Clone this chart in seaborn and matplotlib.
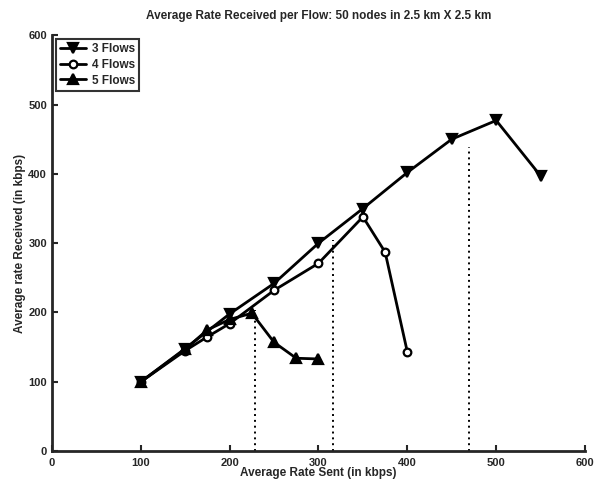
import pandas as pd
import seaborn as sns
import matplotlib.pyplot as plt

# data
sent_3 = [100, 150, 200, 250, 300, 350, 400, 450, 500, 550]
recv_3 = [100, 148, 198, 242, 300, 350, 402, 450, 477, 397]

sent_4 = [100, 150, 175, 200, 250, 300, 350, 375, 400]
recv_4 = [100, 145, 165, 184, 232, 271, 338, 287, 143]

sent_5 = [100, 150, 175, 200, 225, 250, 275, 300]
recv_5 = [100, 147, 175, 190, 199, 157, 134, 133]

# dotted reference lines (x position, top y)
vline_x = [229, 316, 469]
vline_top = [204, 305, 438]

sns.set_style("ticks")
plt.rcParams['font.family'] = ['Liberation Sans', 'DejaVu Sans']
plt.rcParams['font.weight'] = 'bold'

fig = plt.figure(figsize=(5.97, 4.82), dpi=100)
ax = fig.add_axes([0.087, 0.064, 0.893, 0.863])

series = [
    ("3 Flows", sent_3, recv_3, "v", "black", 6.5),
    ("4 Flows", sent_4, recv_4, "o", "white", 5.5),
    ("5 Flows", sent_5, recv_5, "^", "black", 6.5),
]
for name, xs, ys, mk, face, ms in series:
    df = pd.DataFrame({"sent": xs, "recv": ys})
    sns.lineplot(data=df, x="sent", y="recv", sort=False, ax=ax, color="black",
                 linewidth=2, marker=mk, markersize=ms, markerfacecolor=face,
                 markeredgecolor="black", markeredgewidth=1.6, label=name)

for x, top in zip(vline_x, vline_top):
    ax.plot([x, x], [0, top], color="black", linestyle=(0, (1, 2)), linewidth=1.4)

ax.set_xlim(0, 600)
ax.set_ylim(0, 600)
ax.set_xticks(range(0, 601, 100))
ax.set_yticks(range(0, 601, 100))
ax.tick_params(direction="in", length=4, width=1.5, labelsize=8)
ax.tick_params(axis="x", pad=5)
for lab in ax.get_xticklabels() + ax.get_yticklabels():
    lab.set_fontweight("bold")

for s in ["top", "right"]:
    ax.spines[s].set_visible(False)
for s in ["left", "bottom"]:
    ax.spines[s].set_linewidth(2)

ax.set_title("Average Rate Received per Flow: 50 nodes in 2.5 km X 2.5 km",
             fontsize=8.5, fontweight="bold", pad=12)
ax.set_xlabel("Average Rate Sent (in kbps)", fontsize=8.5, fontweight="bold", labelpad=-1)
ax.set_ylabel("Average rate Received (in kbps)", fontsize=8.5, fontweight="bold", labelpad=2)

leg = ax.legend(loc="upper left", fontsize=8.5, frameon=True, fancybox=False,
                edgecolor="black", handlelength=2.2, borderpad=0.35,
                labelspacing=0.3, handletextpad=0.5, borderaxespad=0.35)
leg.get_frame().set_linewidth(1.5)
for t in leg.get_texts():
    t.set_fontweight("bold")

fig.savefig("out.png", dpi=100)
